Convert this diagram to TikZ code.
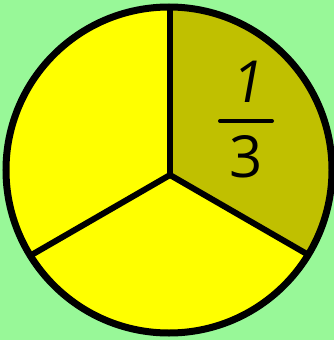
\documentclass[tikz,border=0pt]{standalone}
\usepackage{fontspec}
\newfontfamily\fracfont{Open Sans}
\newfontfamily\onefont[FakeSlant=0.18]{Open Sans}
\definecolor{bggreen}{RGB}{152,248,152}
\definecolor{sectoryellow}{RGB}{255,255,0}
\definecolor{sectorolive}{RGB}{192,192,0}
\tikzset{
  outline/.style={draw=black, line width=7pt},
  divider/.style={draw=black, line width=6pt},
  digit/.style={inner sep=0pt, font=\fracfont\fontsize{58}{58}\selectfont},
}
\begin{document}
\begin{tikzpicture}[x=1pt,y=-1pt]
\fill[bggreen] (0,0) rectangle (334,340);
\useasboundingbox (0,0) rectangle (334,340);
\coordinate (C) at (169,170);
\coordinate (O) at (170,175);
\fill[sectoryellow] (C) circle[radius=163pt];
\begin{scope}
  \clip (C) circle[radius=163pt];
  \fill[sectorolive] (O) -- (170,-20) -- (420,-20) -- (420,319.3) -- cycle;
  \coordinate (T) at (170,-20);
  \coordinate (L) at (-80,319.3);
  \coordinate (R) at (420,319.3);
  \draw[divider] (O) -- (T);
  \draw[divider, line join=round] (L) -- (O) -- (R);
\end{scope}
\draw[outline] (C) circle[radius=163pt];
\node[digit, font=\onefont\fontsize{58}{58}\selectfont] (one) at (246,82) {1};
\node[digit] (three) at (246,157) {3};
\coordinate (barL) at (220,121);
\coordinate (barR) at (272,121);
\draw[line width=4pt, line cap=round] (barL) -- (barR);
\end{tikzpicture}
\end{document}
